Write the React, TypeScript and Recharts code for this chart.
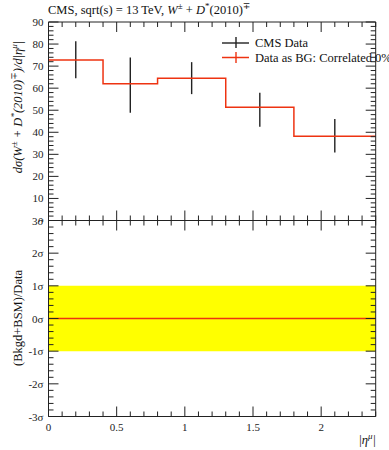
import React from "react";
import {
  ComposedChart,
  Line,
  Scatter,
  ErrorBar,
  Area,
  XAxis,
  YAxis,
} from "recharts";

// ---- Data ----
const binEdges = [0, 0.4, 0.8, 1.3, 1.8, 2.4];
const binValues = [72.8, 62.0, 64.5, 51.4, 38.2];
const pointX = [0.2, 0.6, 1.05, 1.55, 2.1];
const errDown = [8.3, 13.2, 7.2, 8.9, 7.4];
const errUp = [8.5, 11.9, 7.3, 6.5, 7.8];
const ratioX = [0, 2.4];
const ratioValues = [0, 0];
const bandLow = [-1, -1];
const bandHigh = [1, 1];

const xTicks = Array.from({ length: 25 }, (_, i) => Math.round(i) / 10);
const yTicksTop = Array.from({ length: 46 }, (_, i) => i * 2);
const yTicksBottom = Array.from({ length: 31 }, (_, i) => Math.round((-3 + i * 0.2) * 10) / 10);

const RED = "#ee3311";
const FONT = "'Liberation Serif', 'DejaVu Serif', serif";

const stepData = binEdges.map((x, i) => ({
  x,
  y: binValues[Math.min(i, binValues.length - 1)],
}));
const pointData = pointX.map((x, i) => ({
  x,
  y: binValues[i],
  err: [errDown[i], errUp[i]],
}));
const ratioData = ratioX.map((x, i) => ({
  x,
  r: ratioValues[i],
  band: [bandLow[i], bandHigh[i]],
}));

const isMult = (v: number, step: number) =>
  Math.abs(v / step - Math.round(v / step)) < 1e-6;

type Orient = "left" | "right" | "top" | "bottom";

function makeTick(
  orient: Orient,
  majorStep: number,
  label: ((v: number) => string) | null,
  showLabel?: (v: number) => boolean
) {
  return (props: any) => {
    const { x, y, payload } = props;
    const v = payload.value as number;
    const major = isMult(v, majorStep);
    const L = major ? 10 : 5;
    let x2 = x,
      y2 = y;
    if (orient === "left") x2 = x + L;
    if (orient === "right") x2 = x - L;
    if (orient === "bottom") y2 = y - L;
    if (orient === "top") y2 = y + L;
    let txt: React.ReactNode = null;
    if (label && major && (!showLabel || showLabel(v))) {
      if (orient === "left") {
        txt = (
          <text
            x={x - 5}
            y={y + 4}
            textAnchor="end"
            fontSize={11}
            fontFamily={FONT}
            fill="#222"
          >
            {label(v)}
          </text>
        );
      } else if (orient === "bottom") {
        txt = (
          <text
            x={x}
            y={y + 14}
            textAnchor="middle"
            fontSize={11}
            fontFamily={FONT}
            fill="#222"
          >
            {label(v)}
          </text>
        );
      }
    }
    return (
      <g>
        <line x1={x} y1={y} x2={x2} y2={y2} stroke="#222" strokeWidth={1} />
        {txt}
      </g>
    );
  };
}

const sigmaLabel = (v: number) => {
  const n = Math.round(v);
  return null as any;
};

function SigmaText(props: any) {
  return null;
}

const fmtNum = (v: number) => String(Math.round(v * 10) / 10);
const fmtSigma = (v: number) => `${Math.round(v) < 0 ? "-" : ""}${Math.abs(Math.round(v))}σ`;

export default function App() {
  return (
    <div
      style={{
        position: "absolute",
        left: 0,
        top: 0,
        width: 389,
        height: 450,
        background: "#fff",
        overflow: "hidden",
      }}
    >
      {/* Upper panel */}
      <div style={{ position: "absolute", left: 0, top: 0 }}>
        <ComposedChart
          width={389}
          height={222}
          margin={{ top: 21, right: 12.3, bottom: 0.5, left: 0 }}
        >
          <XAxis
            xAxisId="b"
            type="number"
            dataKey="x"
            domain={[0, 2.4]}
            ticks={xTicks}
            interval={0}
            allowDataOverflow
            orientation="bottom"
            height={1}
            tickSize={0}
            tickMargin={0}
            axisLine={{ stroke: "#222" }}
            tick={makeTick("bottom", 0.5, null)}
          />
          <XAxis
            xAxisId="t"
            type="number"
            dataKey="x"
            domain={[0, 2.4]}
            ticks={xTicks}
            interval={0}
            allowDataOverflow
            orientation="top"
            height={1}
            tickSize={0}
            tickMargin={0}
            axisLine={{ stroke: "#222" }}
            tick={makeTick("top", 0.5, null)}
          />
          <YAxis
            yAxisId="l"
            type="number"
            domain={[0, 90]}
            ticks={yTicksTop}
            interval={0}
            allowDataOverflow
            orientation="left"
            width={48.5}
            tickSize={0}
            tickMargin={0}
            axisLine={{ stroke: "#222" }}
            tick={makeTick("left", 10, fmtNum)}
          />
          <YAxis
            yAxisId="r"
            type="number"
            domain={[0, 90]}
            ticks={yTicksTop}
            interval={0}
            allowDataOverflow
            orientation="right"
            width={1}
            tickSize={0}
            tickMargin={0}
            axisLine={{ stroke: "#222" }}
            tick={makeTick("right", 10, null)}
          />
          <Scatter
            xAxisId="b"
            yAxisId="l"
            data={pointData}
            dataKey="y"
            isAnimationActive={false}
            shape={() => <g />}
          >
            <ErrorBar
              dataKey="err"
              direction="y"
              width={0}
              stroke="#222"
              strokeWidth={1.4}
              isAnimationActive={false}
            />
          </Scatter>
          <Line
            xAxisId="b"
            yAxisId="l"
            data={stepData}
            dataKey="y"
            type="stepAfter"
            stroke={RED}
            strokeWidth={1.5}
            dot={false}
            isAnimationActive={false}
          />
        </ComposedChart>
      </div>

      {/* Lower panel */}
      <div style={{ position: "absolute", left: 0, top: 200 }}>
        <ComposedChart
          width={389}
          height={250}
          data={ratioData}
          margin={{ top: 19.5, right: 12.3, bottom: 13.5, left: 0 }}
        >
          <XAxis
            xAxisId="b"
            type="number"
            dataKey="x"
            domain={[0, 2.4]}
            ticks={xTicks}
            interval={0}
            allowDataOverflow
            orientation="bottom"
            height={20}
            tickSize={0}
            tickMargin={0}
            axisLine={{ stroke: "#222" }}
            tick={makeTick("bottom", 0.5, fmtNum)}
          />
          <XAxis
            xAxisId="t"
            type="number"
            dataKey="x"
            domain={[0, 2.4]}
            ticks={xTicks}
            interval={0}
            allowDataOverflow
            orientation="top"
            height={1}
            tickSize={0}
            tickMargin={0}
            axisLine={{ stroke: "#222" }}
            tick={makeTick("top", 0.5, null)}
          />
          <YAxis
            yAxisId="l"
            type="number"
            domain={[-3, 3]}
            ticks={yTicksBottom}
            interval={0}
            allowDataOverflow
            orientation="left"
            width={48.5}
            tickSize={0}
            tickMargin={0}
            axisLine={{ stroke: "#222" }}
            tick={makeTick("left", 1, fmtSigma)}
          />
          <YAxis
            yAxisId="r"
            type="number"
            domain={[-3, 3]}
            ticks={yTicksBottom}
            interval={0}
            allowDataOverflow
            orientation="right"
            width={1}
            tickSize={0}
            tickMargin={0}
            axisLine={{ stroke: "#222" }}
            tick={makeTick("right", 1, null)}
          />
          <Area
            xAxisId="b"
            yAxisId="l"
            dataKey="band"
            type="linear"
            fill="#ffff00"
            fillOpacity={1}
            stroke="none"
            isAnimationActive={false}
          />
          <Line
            xAxisId="b"
            yAxisId="l"
            dataKey="r"
            type="linear"
            stroke={RED}
            strokeWidth={1.5}
            dot={false}
            isAnimationActive={false}
          />
        </ComposedChart>
      </div>

      {/* Text overlay */}
      <svg
        width={389}
        height={450}
        style={{ position: "absolute", left: 0, top: 0, pointerEvents: "none" }}
        fontFamily={FONT}
      >
        <text x={48} y={14} fontSize={12.5} fill="#111">
          CMS, sqrt(s) = 13 TeV,{" "}
          <tspan fontStyle="italic">W</tspan>
          <tspan fontSize={9} dy={-5}>±</tspan>
          <tspan dy={5}> + </tspan>
          <tspan fontStyle="italic">D</tspan>
          <tspan fontSize={9} dy={-5}>*</tspan>
          <tspan dy={5}>(2010)</tspan>
          <tspan fontSize={9} dy={-5}>∓</tspan>
        </text>

        <text
          transform="translate(22,107) rotate(-90)"
          textAnchor="middle"
          fontSize={12.5}
          fill="#111"
          fontStyle="italic"
        >
          dσ(W<tspan fontSize={9} dy={-5}>±</tspan>
          <tspan dy={5}> + D</tspan>
          <tspan fontSize={9} dy={-5}>*</tspan>
          <tspan dy={5}>(2010)</tspan>
          <tspan fontSize={9} dy={-5}>∓</tspan>
          <tspan dy={5}>)/d|η</tspan>
          <tspan fontSize={9} dy={-5}>μ</tspan>
          <tspan dy={5}>|</tspan>
        </text>

        <text
          transform="translate(22,318) rotate(-90)"
          textAnchor="middle"
          fontSize={12.5}
          fill="#111"
        >
          (Bkgd+BSM)/Data
        </text>

        <text x={376} y={444} textAnchor="end" fontSize={12.5} fill="#111" fontStyle="italic">
          |η<tspan fontSize={9} dy={-5}>μ</tspan>
          <tspan dy={5}>|</tspan>
        </text>

        {/* Legend */}
        <line x1={222} y1={43} x2={249} y2={43} stroke="#222" strokeWidth={1.4} />
        <line x1={236} y1={37} x2={236} y2={48} stroke="#222" strokeWidth={1.4} />
        <text x={255} y={47} fontSize={12.5} fill="#111">CMS Data</text>
        <line x1={222} y1={57.5} x2={249} y2={57.5} stroke={RED} strokeWidth={1.5} />
        <line x1={236} y1={52} x2={236} y2={63} stroke={RED} strokeWidth={1.4} />
        <text x={255} y={61.5} fontSize={12.5} fill="#111">
          Data as BG: Correlated 0%
        </text>
      </svg>
    </div>
  );
}
